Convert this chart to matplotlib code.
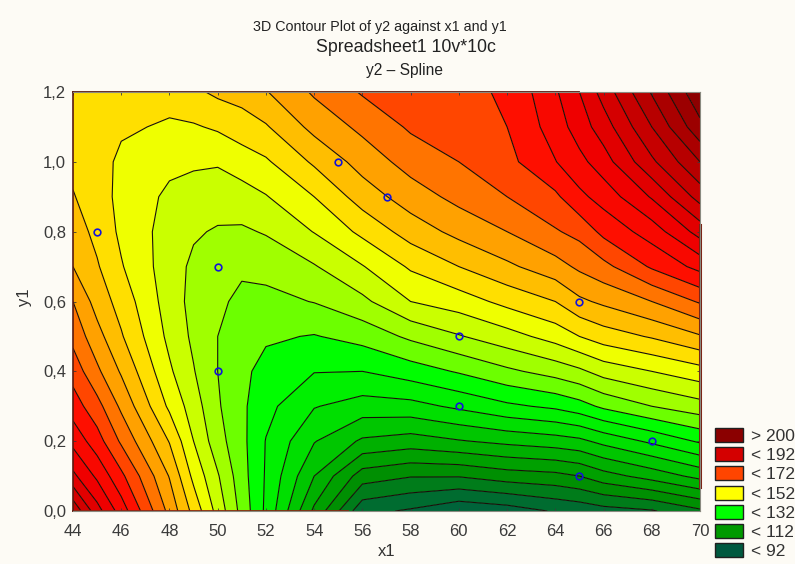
#!/usr/bin/env python3
# -*- coding: utf-8 -*-
import numpy as np
import matplotlib
matplotlib.use('Agg')
import matplotlib.pyplot as plt
from matplotlib.colors import LinearSegmentedColormap, Normalize
from matplotlib.patches import Patch

plt.rcParams['font.family'] = ['Liberation Sans', 'DejaVu Sans']

# surface, one list per x1 column, y1 = 0.0 ... 1.2
y1_grid = [0.0, 0.1, 0.2, 0.3, 0.4, 0.5, 0.6, 0.7, 0.8, 0.9, 1.0, 1.1, 1.2]
x1_grid = [44, 45, 46, 48, 49, 50, 51, 52, 54, 56, 58, 60, 62, 64, 65, 66, 68, 70]
z44 = [206, 193.2, 185.5, 179.5, 175, 170.5, 167, 162, 159.5, 157.3, 155.8, 155, 155]
z45 = [194, 186, 179.2, 173.8, 168, 163.8, 160, 157.5, 155.6, 154.5, 154, 154, 154.3]
z46 = [184.7, 178.2, 171.2, 166, 161.4, 157.5, 155, 152.4, 151, 150.5, 151, 152.7, 154]
z48 = [165.5, 161.7, 156.7, 151, 147.8, 145.7, 144.6, 144.3, 144.8, 146, 148.2, 151.4, 153.7]
z49 = [155.4, 150.7, 147, 144.5, 142.3, 141, 140.4, 141, 142.6, 145.3, 147.6, 151.5, 156]
z50 = [145.2, 142.5, 139, 137.6, 137, 137, 138.5, 139.5, 141.5, 144.3, 147.5, 152.7, 158]
z51 = [135.3, 134, 133.4, 133, 133.2, 134, 135.2, 138.3, 141.3, 144.8, 149.5, 154.6, 159]
z52 = [126, 126.5, 126.8, 128.5, 130.3, 132.7, 135.5, 138.7, 142.4, 146.7, 151.3, 156.5, 161.7]
z54 = [106, 112, 117.3, 122.3, 127.2, 131.7, 137.2, 141.6, 147.2, 152, 157.8, 163.5, 167.7]
z56 = [88.5, 99.5, 111.2, 119.8, 127, 133.8, 140.8, 146.7, 153.2, 159.3, 164, 168.2, 172.5]
z58 = [86.3, 97.3, 109.7, 120.3, 129.5, 138, 147, 152.7, 159.2, 164.5, 169, 172.7, 174.5]
z60 = [83, 97.3, 111.6, 123, 132.5, 141.6, 149.5, 157, 163.5, 168.5, 172, 174.5, 176]
z62 = [84.5, 99.5, 113.3, 126, 136, 145, 153.5, 161, 167, 172, 175.5, 177, 177.5]
z64 = [87.5, 100.5, 114.7, 128, 139, 149, 157, 165, 171.5, 176, 181.8, 184.3, 186.3]
z65 = [88.5, 102, 115.8, 130, 141, 152, 161, 168, 173.5, 180.8, 185.5, 189.5, 192]
z66 = [90, 105, 118.5, 133, 144, 154.5, 163, 170.5, 178.4, 184, 189.8, 194.5, 199]
z68 = [91.5, 109, 123, 137, 147, 157.5, 167, 177.7, 184.3, 192.5, 201, 207, 212.5]
z70 = [96, 113.5, 127.7, 140, 150, 161.5, 172.6, 183.6, 194, 204, 212, 220.6, 226]

# measured points
x1_pts = [45, 50, 50, 55, 57, 60, 60, 65, 65, 68]
y1_pts = [0.8, 0.7, 0.4, 1.0, 0.9, 0.5, 0.3, 0.6, 0.1, 0.2]

x_ticks = [44, 46, 48, 50, 52, 54, 56, 58, 60, 62, 64, 66, 68, 70]
y_ticks = [0.0, 0.2, 0.4, 0.6, 0.8, 1.0, 1.2]
y_labels = ['0,0', '0,2', '0,4', '0,6', '0,8', '1,0', '1,2']

legend_labels = ['> 200', '< 192', '< 172', '< 152', '< 132', '< 112', '< 92']
legend_colors = ['#8b0000', '#d40000', '#ff4500', '#ffff00', '#00ff00', '#009a00', '#00593f']

bg = '#fdfbf5'
W, H = 795, 564

Z = np.column_stack([z44, z45, z46, z48, z49, z50, z51, z52, z54, z56, z58,
                     z60, z62, z64, z65, z66, z68, z70])
levels = np.arange(77, 232, 5)

vmin, vmax = 79, 226
anchors = [(79, '#005c44'), (89.5, '#006c30'), (99.5, '#009000'), (109.5, '#00b000'),
           (119.5, '#00e000'), (129.5, '#00ff00'), (134.5, '#70ff00'), (139.5, '#a0ff00'),
           (144.5, '#c8ff00'), (149.5, '#f0ff00'), (154.5, '#ffdf00'), (164.5, '#ffa000'),
           (174.5, '#ff4800'), (179.5, '#ff1000'), (189.5, '#f00000'), (226, '#8a0000')]
cmap = LinearSegmentedColormap.from_list(
    'stat', [((v - vmin) / (vmax - vmin), c) for v, c in anchors])

fig = plt.figure(figsize=(W / 100, H / 100), dpi=100, facecolor=bg)
ax = fig.add_axes([73 / W, (H - 511) / H, (700 - 73) / W, (511 - 92) / H])

ax.contourf(x1_grid, y1_grid, Z, levels=levels, cmap=cmap,
            norm=Normalize(vmin, vmax), antialiased=True)
ax.contour(x1_grid, y1_grid, Z, levels=levels, colors='#181008', linewidths=0.8)
ax.plot(x1_pts, y1_pts, 'o', mfc='none', mec='#1414d8', mew=1.2, ms=4.8, ls='none')

ax.set_xlim(44, 70)
ax.set_ylim(0, 1.2)
ax.set_xticks(x_ticks)
ax.set_yticks(y_ticks)
ax.set_yticklabels(y_labels)
ax.tick_params(direction='in', length=2.5, width=0.6, labelsize=12, colors='#3a3a3a',
               top=True, right=True)
ax.tick_params(axis='x', pad=9)
ax.tick_params(axis='y', pad=5)
for s in ax.spines.values():
    s.set_color('#8a8a80')
    s.set_linewidth(0.8)
ax.spines['left'].set_color('#5a1a10')
ax.spines['left'].set_linewidth(1.2)

# the darker, thicker stretches of the frame
ax.plot([44, 65], [1.2, 1.2], color='#5a1a10', lw=1.3, clip_on=False)
ax.plot([44, 55.4], [0, 0], color='#8a2412', lw=1.3, clip_on=False)
ax.plot([70, 70], [0.07, 0.82], color='#7a2010', lw=2.2, clip_on=False)

ax.set_xlabel('x1', fontsize=12, color='#333333', labelpad=4)
ax.set_ylabel('y1', fontsize=12, color='#333333')
ax.yaxis.set_label_coords(-0.066, 0.51)

title = ['3D Contour Plot of y2 against x1 and y1', 'Spreadsheet1 10v*10c', 'y2 – Spline']
title_x = [380, 406, 405]
title_y = [27, 48, 71]
title_size = [10.3, 12.8, 11.2]
for t, tx, ty, ts in zip(title, title_x, title_y, title_size):
    fig.text(tx / W, 1 - ty / H, t, ha='center', va='center', fontsize=ts, color='#222222')

handles = [Patch(facecolor=c, edgecolor='#202020', linewidth=1) for c in legend_colors]
fig.legend(handles, legend_labels, loc='upper left', bbox_to_anchor=(715 / W, 1 - 428 / H),
           frameon=False, fontsize=12.5, handlelength=1.6, handleheight=0.85,
           labelspacing=0.19, borderpad=0, borderaxespad=0, handletextpad=0.45,
           labelcolor='#333333')

fig.savefig('out.png', dpi=100, facecolor=bg)
